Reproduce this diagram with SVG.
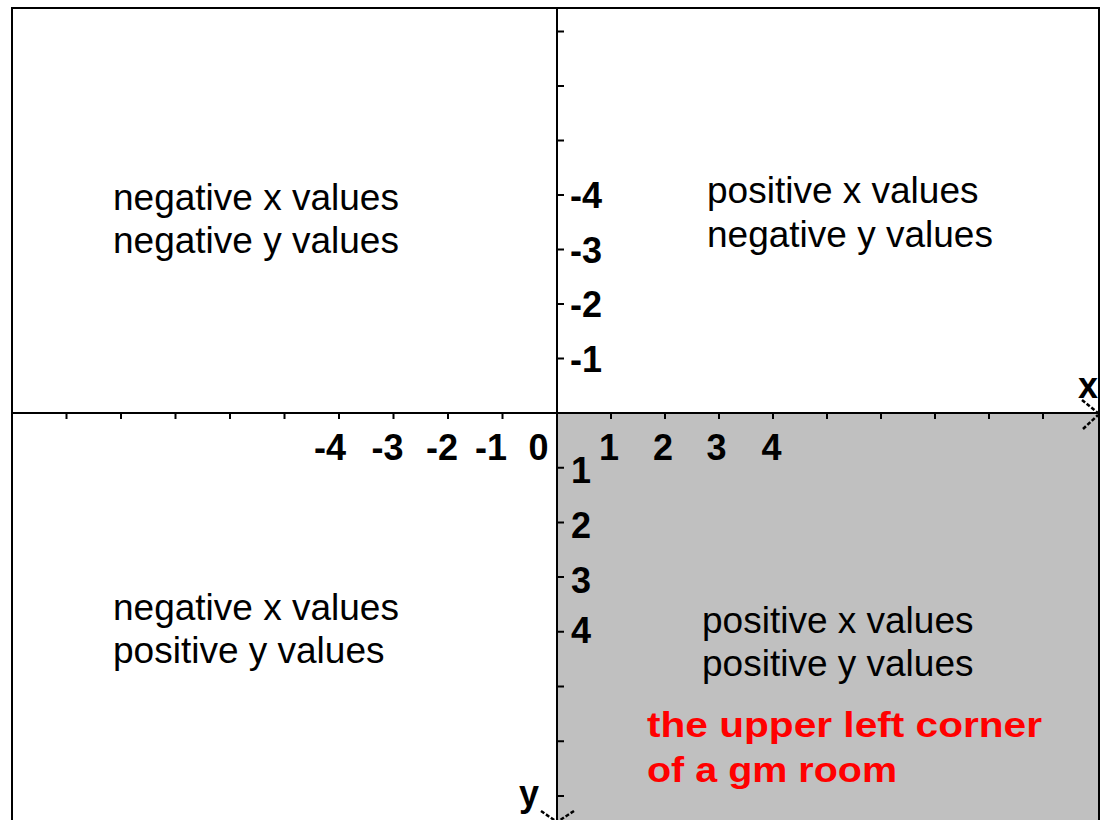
<svg xmlns="http://www.w3.org/2000/svg" width="1106" height="820" viewBox="0 0 1106 820">
<style>
.ln{stroke:#000;stroke-width:2;fill:none}
.tk{stroke:#000;stroke-width:2}
.arr{stroke:#000;stroke-width:2.5;stroke-dasharray:4 2;fill:none}
.q{font-family:"Liberation Sans",Arial,sans-serif;font-size:37px;fill:#000}
.n{font-family:"Liberation Sans",Arial,sans-serif;font-size:36px;font-weight:bold;fill:#000}
.r{font-family:"Liberation Sans",Arial,sans-serif;font-size:35px;font-weight:bold;fill:#ff0000}
</style>
<rect width="1106" height="820" fill="#fff"/>
<g id="shade"><rect x="557" y="413" width="542" height="407" fill="#c0c0c0"/></g>
<g id="frame"><path class="ln" d="M12,820 V8 H1099 V820" stroke-width="2.5"/></g>
<g id="axes">
<line class="ln" x1="12" y1="413" x2="1099" y2="413"/>
<line class="ln" x1="557" y1="8" x2="557" y2="820"/>
<path class="tk" d="M66.5,413v6M121,413v6M175.5,413v6M230,413v6M284.5,413v6M339,413v6M393.5,413v6M448,413v6M502.5,413v6M611,413v6M665,413v6M719,413v6M773,413v6M827,413v6M881,413v6M935,413v6M989,413v6M1043,413v6"/>
<path class="tk" d="M557,31.5h7M557,86h7M557,140.5h7M557,195h7M557,249.5h7M557,304h7M557,358.5h7M557,467.7h7M557,522.4h7M557,577.1h7M557,631.8h7M557,686.5h7M557,741.2h7M557,795.9h7"/>
<path class="arr" d="M1082,400L1098,413M1083,429L1098,415"/>
<path class="arr" d="M541,811L557,822M574,811L557,822"/>
</g>
<g id="axis-labels">
<text class="n" x="1078" y="398">x</text>
<text class="n" x="519" y="806">y</text>
<g text-anchor="middle">
<text class="n" x="330" y="460">-4</text>
<text class="n" x="387.5" y="460">-3</text>
<text class="n" x="442" y="460">-2</text>
<text class="n" x="491" y="460">-1</text>
<text class="n" x="538.5" y="460">0</text>
<text class="n" x="609" y="460">1</text>
<text class="n" x="663" y="460">2</text>
<text class="n" x="716.5" y="460">3</text>
<text class="n" x="771.5" y="460">4</text>
</g>
<text class="n" x="570" y="208">-4</text>
<text class="n" x="570" y="263">-3</text>
<text class="n" x="570" y="317">-2</text>
<text class="n" x="570" y="372">-1</text>
<text class="n" x="571" y="483">1</text>
<text class="n" x="571" y="538">2</text>
<text class="n" x="571" y="593">3</text>
<text class="n" x="571" y="643">4</text>
</g>
<g id="q2"><text class="q" x="113" y="210">negative x values</text><text class="q" x="113" y="253">negative y values</text></g>
<g id="q1"><text class="q" x="707" y="203">positive x values</text><text class="q" x="707" y="247">negative y values</text></g>
<g id="q3"><text class="q" x="113" y="620">negative x values</text><text class="q" x="113" y="663">positive y values</text></g>
<g id="q4"><text class="q" x="702" y="633">positive x values</text><text class="q" x="702" y="676">positive y values</text></g>
<g id="note"><text class="r" x="647" y="737" textLength="395" lengthAdjust="spacingAndGlyphs">the upper left corner</text><text class="r" x="647" y="782" textLength="250" lengthAdjust="spacingAndGlyphs">of a gm room</text></g>
</svg>
